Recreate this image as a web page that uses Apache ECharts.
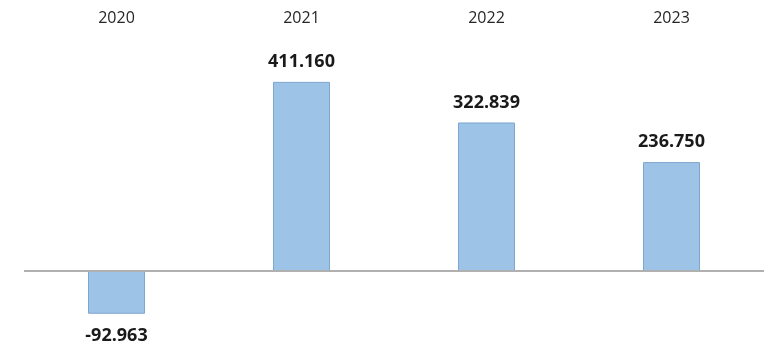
<!DOCTYPE html>
<html><head><meta charset="utf-8">
<script src="https://cdn.jsdelivr.net/npm/echarts@6/dist/echarts.min.js"></script>
<style>html,body{margin:0;padding:0;background:#fff}#c{width:771px;height:351px}</style>
</head><body><div id="c"></div>
<script>
const categories = ['2020', '2021', '2022', '2023'];
const values = [-92.963, 411.160, 322.839, 236.750];

const chart = echarts.init(document.getElementById('c'));
chart.setOption({
  animation: false,
  grid: { left: 24, right: 7, top: 41, bottom: 34 },
  xAxis: {
    type: 'category', data: categories, position: 'top',
    axisLine: { show: false }, axisTick: { show: false },
    axisLabel: { margin: 15, fontSize: 16, color: '#262626', fontFamily: 'Open Sans' }
  },
  yAxis: { type: 'value', min: -100, max: 500, show: false, splitLine: { show: false } },
  series: [{
    type: 'bar', barWidth: 57,
    data: values.map(v => ({
      value: v,
      label: { position: v < 0 ? 'bottom' : 'top', distance: v < 0 ? 13 : 11 }
    })),
    itemStyle: { color: '#9dc3e6', borderColor: '#7ea6cf', borderWidth: 1 },
    label: {
      show: true, fontSize: 18, fontWeight: 'bold', color: '#1a1a1a', fontFamily: 'Open Sans',
      formatter: p => p.value.toFixed(3)
    },
    markLine: {
      silent: true, symbol: 'none', label: { show: false },
      lineStyle: { color: '#b0b0b0', width: 2, type: 'solid' },
      data: [{ yAxis: 0 }]
    }
  }]
});
</script></body></html>
